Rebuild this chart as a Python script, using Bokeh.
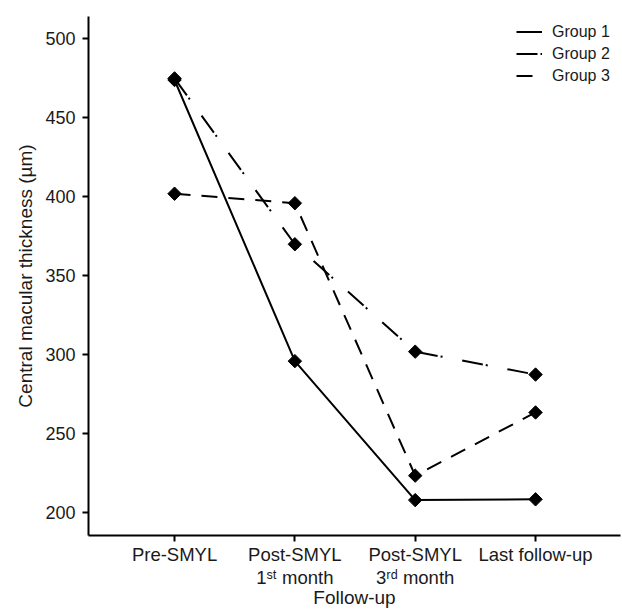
import numpy as np
from bokeh.plotting import figure
from bokeh.models import Legend, LegendItem, FixedTicker
from bokeh.embed import file_html
from bokeh.resources import INLINE

# ---- data ----
categories = ["Pre-SMYL", "Post-SMYL\n1\u02e2\u1d57 month", "Post-SMYL\n3\u02b3\u1d48 month", "Last follow-up"]
x_pos = [1, 2, 3, 4]
group1 = [474, 296, 208, 208.5]
group2 = [475, 370, 302, 287.5]
group3 = [402, 396, 223.5, 263.5]
y_ticks = [200, 250, 300, 350, 400, 450, 500]
series_names = ["Group 1", "Group 2", "Group 3"]

FONT = "Liberation Sans"
TXT = "#1a1a1a"

p = figure(width=622, height=610, output_backend="svg", toolbar_location=None,
           x_range=(0.285, 4.706), y_range=(185.6, 514.2),
           min_border_top=16, min_border_right=2, min_border_left=88)
p.outline_line_color = None
p.xgrid.visible = False
p.ygrid.visible = False
p.background_fill_color = "white"
p.border_fill_color = "white"

series = [group1, group2, group3]
dashes = ["solid", "21 3 2 20", "16 11"]
line_renderers = []
for vals, dash in zip(series, dashes):
    r = p.line(x_pos, vals, line_color="black", line_width=2, line_dash=dash)
    line_renderers.append(r)
    p.scatter(x_pos, vals, marker="square", angle=np.pi / 4, size=9.5,
              fill_color="black", line_color="black", line_width=1)

# axes
for ax in (p.xaxis[0], p.yaxis[0]):
    ax.axis_line_width = 2
    ax.axis_line_color = "black"
    ax.major_tick_line_width = 2
    ax.major_tick_line_color = "black"
    ax.major_tick_out = 6
    ax.major_tick_in = 0
    ax.minor_tick_line_color = None
    ax.major_label_text_font = FONT
    ax.major_label_text_color = TXT
    ax.axis_label_text_font = FONT
    ax.axis_label_text_font_style = "normal"
    ax.axis_label_text_color = TXT

p.xaxis.ticker = FixedTicker(ticks=x_pos)
p.xaxis.major_label_overrides = {x: c for x, c in zip(x_pos, categories)}
p.xaxis.axis_label = "Follow-up"
p.xaxis.major_label_text_font_size = "18.5px"
p.xaxis.major_label_text_line_height = 1.1
p.xaxis.axis_label_text_font_size = "19px"
p.xaxis.axis_label_text_line_height = 1.0
p.xaxis.major_label_standoff = 2
p.xaxis.axis_label_standoff = -4

p.yaxis.ticker = FixedTicker(ticks=y_ticks)
p.yaxis.axis_label = "Central macular thickness (\u00b5m)"
p.yaxis.major_label_text_font_size = "18px"
p.yaxis.axis_label_text_font_size = "19px"
p.yaxis.major_label_standoff = 7
p.yaxis.axis_label_standoff = 6

legend = Legend(items=[LegendItem(label=n, renderers=[r]) for n, r in zip(series_names, line_renderers)],
                location=(428, 449), orientation="vertical",
                glyph_width=26, glyph_height=21, spacing=1, padding=0, margin=0,
                label_standoff=10, label_text_font=FONT, label_text_font_size="16px",
                label_text_color=TXT, border_line_color=None, background_fill_alpha=0)
p.add_layout(legend)

open("out.html", "w").write(file_html(p, INLINE))
